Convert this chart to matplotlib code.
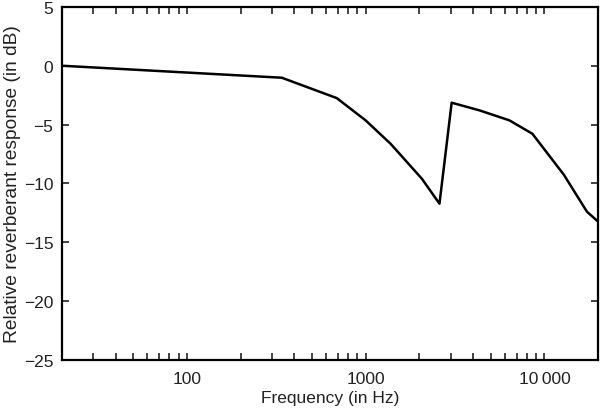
import matplotlib
matplotlib.use("Agg")
import matplotlib.pyplot as plt
from matplotlib.ticker import FixedLocator, LogLocator, NullFormatter

plt.rcParams["font.family"] = ["Liberation Sans", "DejaVu Sans"]

# response curve
freq_hz = [20, 340, 690, 1000, 1380, 2065, 2590, 3030, 4350, 6370, 8570, 12850, 17300, 20000]
response_db = [0.0, -1.02, -2.75, -4.64, -6.63, -9.6, -11.72, -3.14, -3.8, -4.64, -5.78, -9.26, -12.4, -13.25]

xticks = [100, 1000, 10000]
xtick_labels = ["100", "1000", "10\u2009000"]
yticks = [5, 0, -5, -10, -15, -20, -25]

fig = plt.figure(figsize=(6, 4.14), dpi=100)
ax = fig.add_axes([0.103, 0.128, 0.894, 0.853])

ax.plot(freq_hz, response_db, color="black", linewidth=1.8)

ax.set_xscale("log")
ax.set_xlim(20, 20000)
ax.set_ylim(-25, 5)

ax.xaxis.set_major_locator(FixedLocator(xticks))
ax.set_xticklabels(xtick_labels)
ax.xaxis.set_minor_locator(LogLocator(base=10, subs=range(2, 10), numticks=20))
ax.xaxis.set_minor_formatter(NullFormatter())
ax.set_yticks(yticks)

ax.tick_params(which="both", direction="in", top=True, right=True,
               length=5, width=1.2, labelsize=12.5, colors="#222222")
ax.tick_params(axis="x", pad=8)
ax.tick_params(axis="y", pad=6)
for s in ax.spines.values():
    s.set_linewidth(1.6)

ax.set_xlabel("Frequency (in Hz)", fontsize=12.5, color="#222222", labelpad=3)
ax.set_ylabel("Relative reverberant response (in dB)", fontsize=13.8, color="#222222", labelpad=2)

plt.savefig("out.png", dpi=100)
